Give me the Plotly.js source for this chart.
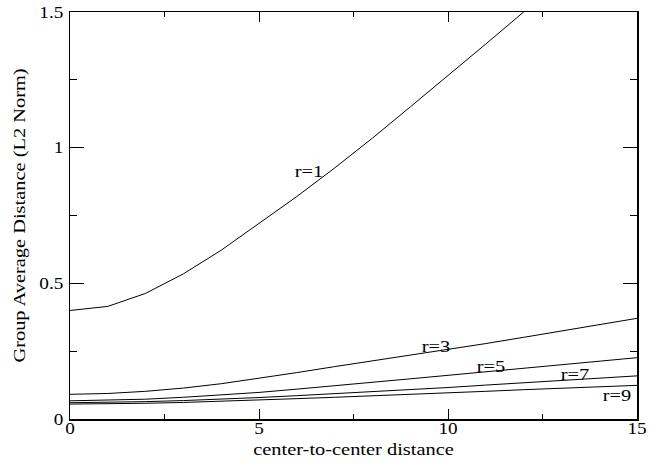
<!DOCTYPE html>
<html>
<head>
<meta charset="utf-8">
<script src="https://cdn.plot.ly/plotly-3.0.1.min.js"></script>
<style>
  html, body { margin: 0; padding: 0; background: #fff; }
  #chart { width: 652px; height: 464px; }
</style>
</head>
<body>
<div id="chart"></div>
<script>
// center-to-center distance (x) shared by every curve
const distance = [0, 1, 2, 3, 4, 5, 6, 7, 8, 9, 10, 11, 12, 13, 14, 15];

// group average distance (L2 norm) for each radius r
const r1 = [0.400, 0.415, 0.463, 0.535, 0.622, 0.720, 0.820, 0.925, 1.035, 1.150, 1.265, 1.382, 1.500, 1.620, 1.740, 1.860];
const r3 = [0.091, 0.094, 0.102, 0.114, 0.130, 0.150, 0.171, 0.193, 0.214, 0.235, 0.256, 0.278, 0.301, 0.324, 0.347, 0.371];
const r5 = [0.067, 0.069, 0.073, 0.080, 0.088, 0.098, 0.110, 0.122, 0.135, 0.148, 0.161, 0.174, 0.187, 0.200, 0.213, 0.226];
const r7 = [0.060, 0.061, 0.064, 0.068, 0.073, 0.079, 0.086, 0.093, 0.100, 0.108, 0.116, 0.125, 0.133, 0.141, 0.150, 0.159];
const r9 = [0.055, 0.056, 0.058, 0.061, 0.065, 0.070, 0.075, 0.080, 0.085, 0.090, 0.096, 0.102, 0.108, 0.114, 0.119, 0.124];

const seriesNames = ['r=1', 'r=3', 'r=5', 'r=7', 'r=9'];
const seriesValues = [r1, r3, r5, r7, r9];

// where each curve's label sits (data coordinates)
const labelX = [6.33, 9.69, 11.15, 13.36, 14.48];
const labelY = [0.914, 0.269, 0.193, 0.165, 0.088];

const serif = 'Liberation Serif, Times New Roman, serif';

const traces = seriesValues.map((vals, i) => ({
  x: distance,
  y: vals,
  name: seriesNames[i],
  type: 'scatter',
  mode: 'lines',
  line: { color: '#000', width: 1 },
  hoverinfo: 'skip'
}));

const annotations = seriesNames.map((name, i) => ({
  x: labelX[i],
  y: labelY[i],
  xref: 'x',
  yref: 'y',
  text: name,
  showarrow: false,
  font: { family: serif, size: 17, color: '#000' },
  xanchor: 'center',
  yanchor: 'middle'
}));

const axisCommon = {
  showline: true,
  linecolor: '#000',
  linewidth: 1.5,
  mirror: 'allticks',
  ticks: 'inside',
  tickcolor: '#000',
  tickwidth: 1,
  showgrid: false,
  zeroline: false,
  tickfont: { family: serif, size: 16, color: '#000' },
  automargin: false
};

const layout = {
  width: 652,
  height: 464,
  margin: { l: 70, r: 15, t: 12, b: 45 },
  paper_bgcolor: '#fff',
  plot_bgcolor: '#fff',
  showlegend: false,
  xaxis: Object.assign({}, axisCommon, {
    range: [0, 15],
    tick0: 0,
    dtick: 5,
    ticklen: 10,
    ticklabelstandoff: -6,
    minor: { dtick: 2.5, ticks: 'inside', ticklen: 5, tickcolor: '#000', showgrid: false },
    title: { text: 'center-to-center distance', font: { family: serif, size: 17, color: '#000' }, standoff: 7 }
  }),
  yaxis: Object.assign({}, axisCommon, {
    range: [0, 1.5],
    tick0: 0,
    dtick: 0.5,
    ticklen: 14,
    ticklabelstandoff: 2,
    minor: { dtick: 0.25, ticks: 'inside', ticklen: 7, tickcolor: '#000', showgrid: false },
    title: { text: 'Group Average Distance (L2 Norm)', font: { family: serif, size: 17, color: '#000' }, standoff: 13 }
  }),
  annotations: annotations
};

// the serif lettering is set slightly wide, so every label is stretched along its run
function widenText(gd, factor) {
  gd.querySelectorAll('svg text').forEach(t => {
    if (!t.textContent.trim()) return;
    const w = t.getComputedTextLength();
    if (!w) return;
    t.setAttribute('textLength', (w * factor).toFixed(2));
    t.setAttribute('lengthAdjust', 'spacingAndGlyphs');
  });
}

Plotly.newPlot('chart', traces, layout, { displayModeBar: false, staticPlot: true })
  .then(gd => widenText(gd, 1.2));
</script>
</body>
</html>
